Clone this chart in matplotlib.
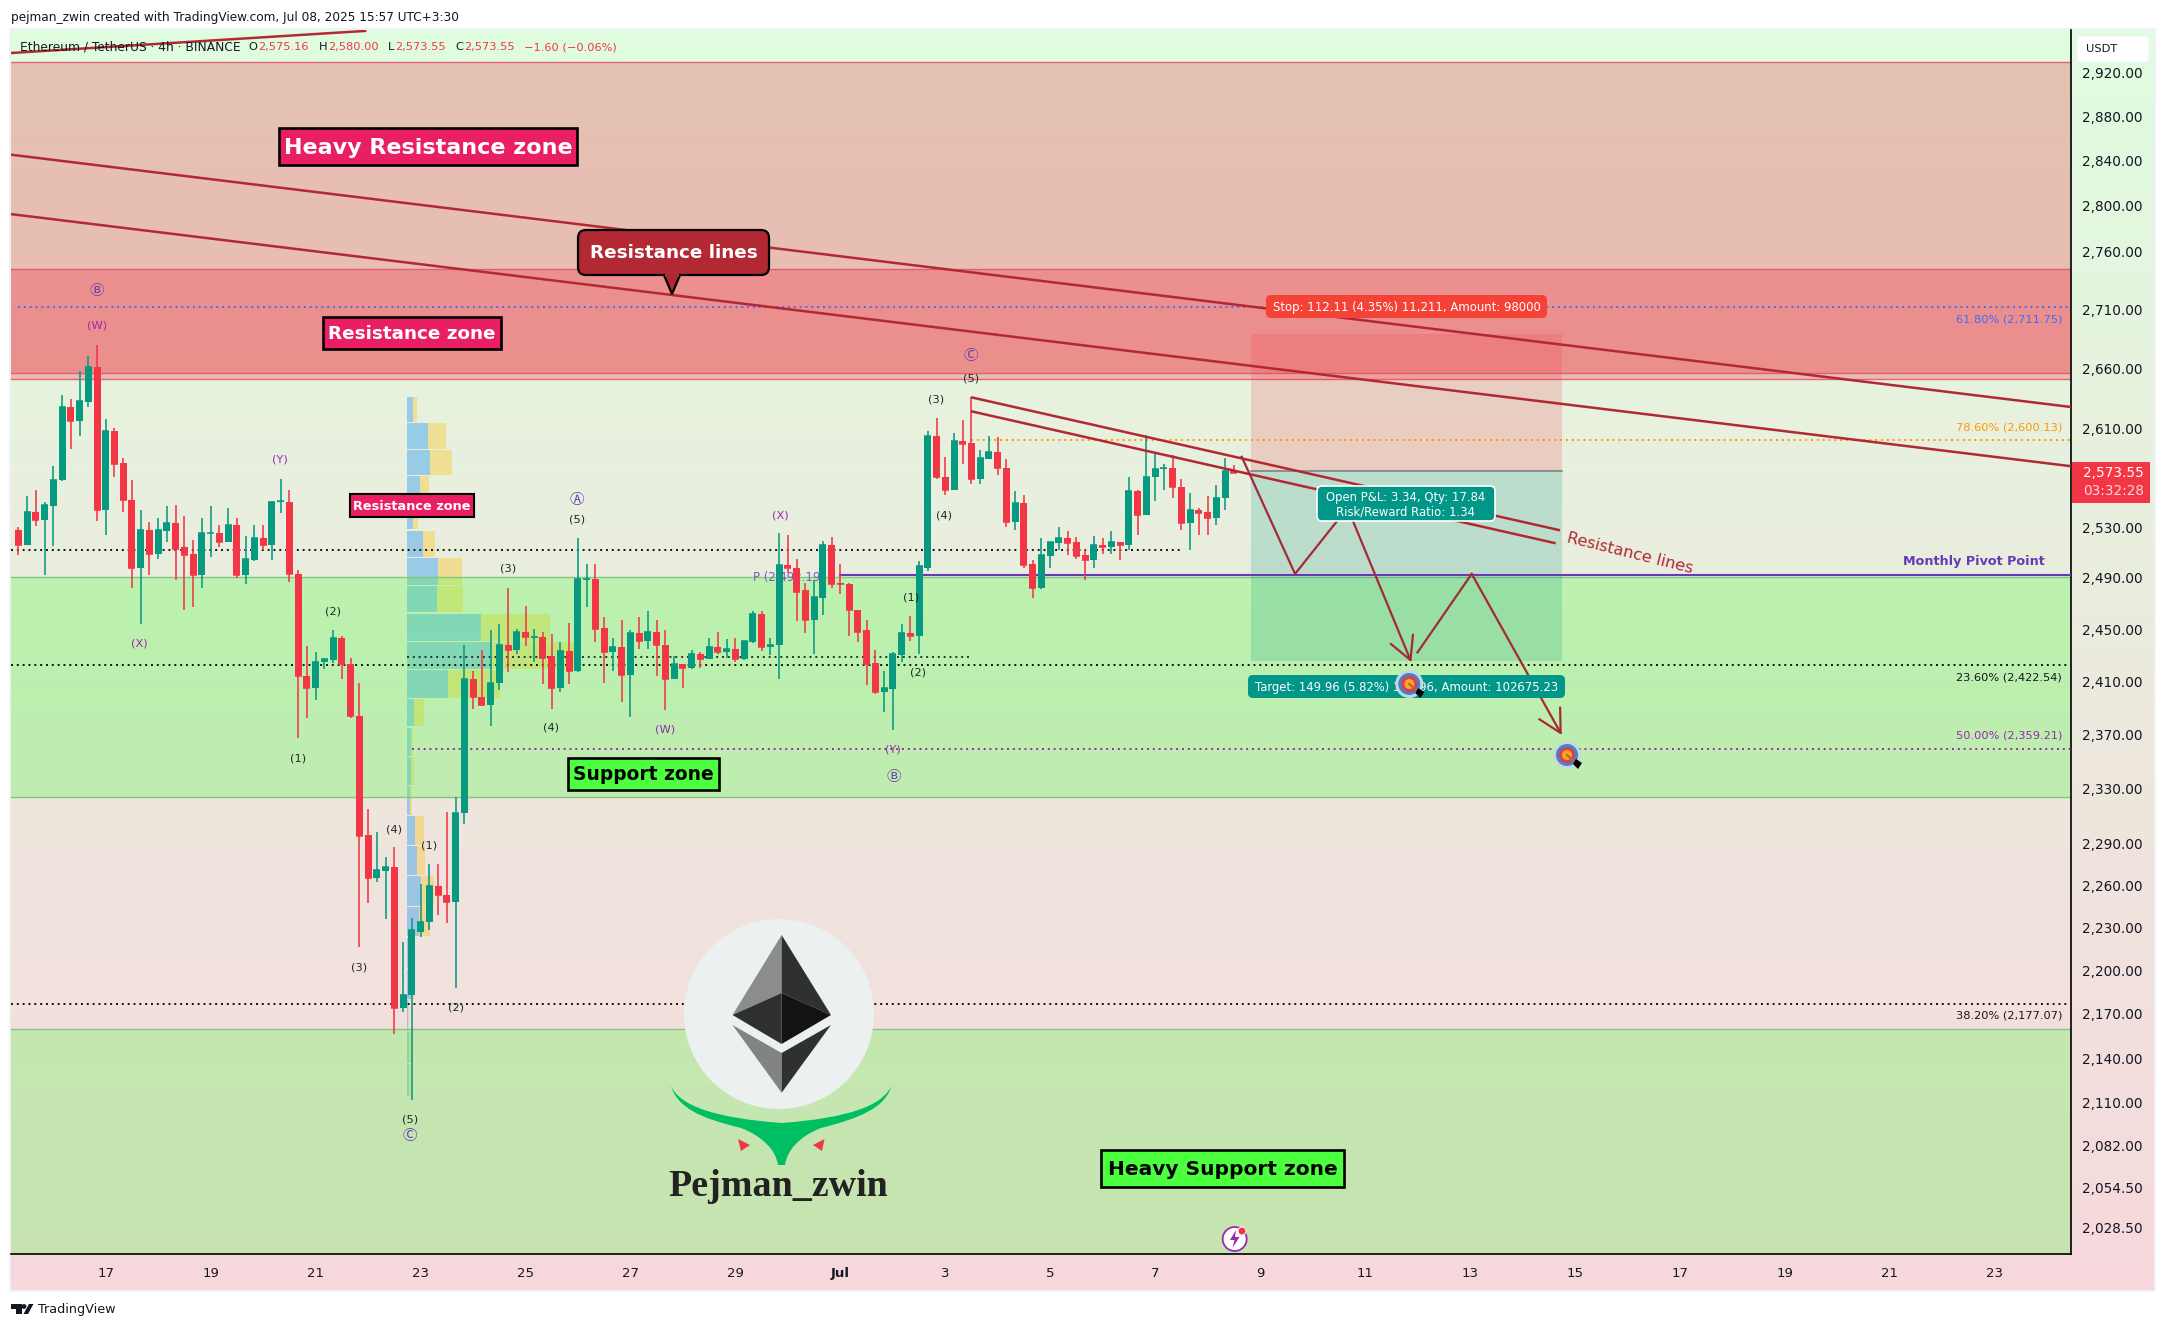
import numpy as np
import matplotlib
matplotlib.use("Agg")
import matplotlib.pyplot as plt
from matplotlib.patches import Rectangle, FancyBboxPatch, Circle, Ellipse, Polygon, PathPatch
from matplotlib.path import Path

plt.rcParams['font.family'] = ['DejaVu Sans']

# ---------- data ----------
opens = [2528,2516,2542,2536,2547,2568,2628,2616,2632,2661,
 2544,2608,2582,2552,2498,2528,2509,2527,2533,2514,
 2509,2492,2525,2525,2518,2532,2492,2504,2521,2516,
 2550,2550,2493,2414,2405,2425,2426,2443,2423,2384,
 2296,2265,2270,2273,2174,2183,2227,2234,2259,2253,
 2248,2312,2412,2398,2392,2409,2438,2434,2448,2443,
 2444,2429,2405,2433,2418,2488,2489,2451,2432,2436,
 2415,2447,2441,2448,2438,2412,2423,2420,2431,2427,
 2436,2432,2435,2427,2440,2462,2436,2438,2500,2498,
 2480,2457,2474,2516,2485.5,2485,2465,2449,2424,2402,
 2404,2430,2447,2445,2498,2604,2570,2560,2600,2598,
 2569,2585,2591,2578,2534,2549,2501,2482,2507,2517,
 2521,2518,2508,2504,2516,2514,2518,2516,2559,2540,
 2570,2577,2578,2562,2533,2544,2542,2537,2553,2575.16]
highs = [2530,2555,2560,2550,2579,2638,2634,2658,2670,2680,
 2618,2610,2586,2568,2544,2534,2537,2547,2548,2539,
 2520,2537,2547,2532,2545,2537,2523,2532,2532,2551,
 2569,2560,2496,2437,2432,2428,2449,2445,2428,2409,
 2315,2298,2280,2287,2220,2237,2261,2275,2275,2313,
 2324,2438,2418,2434,2449,2454,2482,2450,2468,2450,
 2448,2446,2440,2455,2521,2501,2501,2459,2443,2457,
 2449,2459,2464,2457,2449,2429,2423,2434,2432,2443,
 2448,2442,2443,2441,2464,2464,2443,2525,2524,2505,
 2486,2488,2519,2522,2501,2486,2465,2457,2434,2418,
 2432,2454,2460,2503,2608,2619,2587,2606,2617,2636,
 2592,2604,2603,2585,2559,2556,2504,2521,2518,2530,
 2527,2522,2513,2523,2521,2527,2518,2570,2560,2605,
 2590,2581,2588,2569,2557,2545,2555,2564,2586,2580]
lows = [2508,2516,2531,2492,2515,2567,2593,2604,2628,2535,
 2524,2570,2542,2482,2454,2492,2505,2518,2488,2465,
 2467,2482,2506,2514,2518,2490,2485,2503,2512,2504,
 2541,2487,2367,2382,2396,2419,2424,2412,2382,2216,
 2247,2262,2236,2156,2171,2112,2223,2228,2239,2233,
 2188,2304,2389,2391,2376,2403,2417,2431,2437,2425,
 2408,2389,2402,2408,2417,2467,2440,2409,2418,2394,
 2383,2435,2435,2414,2388,2412,2405,2419,2420,2427,
 2431,2428,2425,2426,2439,2433,2430,2412,2494,2456,
 2447,2431,2461,2482,2477,2445,2440,2407,2400,2387,
 2373,2425,2441,2431,2495,2569,2556,2560,2581,2565,
 2565,2585,2572,2530,2528,2498,2474,2481,2498,2512,
 2508,2505,2488,2498,2509,2509,2504,2512,2524,2540,
 2551,2560,2553,2528,2512,2524,2524,2532,2544,2573.55]
closes = [2516,2542,2536,2548,2568,2628,2616,2633,2661,2544,
 2608,2581,2552,2498,2528,2509,2528,2533,2513,2508,
 2492,2525,2525.5,2518,2532,2492,2505,2521,2516,2550,
 2551,2493,2414,2405,2425,2427,2443,2423,2384,2295,
 2265,2271,2273,2174,2183,2228,2234,2259,2253,2248,
 2312,2412,2398,2392,2409,2438,2434,2448,2444,2444,
 2428,2405,2433,2418,2489,2489,2450,2432,2436,2415,
 2447,2441,2448,2438,2412,2423,2420,2431,2427,2436,
 2432,2435,2427,2441,2462,2436,2438,2500,2498,2479,
 2457,2475,2516,2485,2485,2465,2448,2423,2402,2405,
 2431,2447,2445,2499,2604,2570,2560,2600,2597,2569,
 2586,2591,2578,2534,2549,2500,2482,2508,2518,2521,
 2517,2507,2504,2516,2514,2518,2516,2559,2540,2570,
 2577,2578,2562,2533,2544,2541,2537,2553,2575,2573.55]

price_ticks = [2920,2880,2840,2800,2760,2710,2660,2610,2530,2490,2450,2410,2370,
               2330,2290,2260,2230,2200,2170,2140,2110,2082,2054.5,2028.5]
date_ticks = [10,22,34,46,58,70,82,94,106,118,130,142,154,166,178,190,202,214,226]
date_labels = ['17','19','21','23','25','27','29','Jul','3','5','7','9','11','13','15','17','19','21','23']

profile_top = 2636.0
profile_bin = 21.75
profile_buy = [6,21,23,13,6,16,31,30,74,84,41,7,4,4,3,8,10,14,12,2,5,1,2,2]
profile_sell = [4,18,22,9,5,12,24,26,69,84,52,10,2,3,2,9,8,13,11,3,2,1,3,2]

heavy_res = (2651, 2929.4)
res_zone = (2656, 2744.4)
support_zone = (2323.4, 2490.6)
heavy_sup_top = 2159.5

fib_618 = 2711.75
fib_786 = 2600.13
fib_236 = 2422.54
fib_500 = 2359.21
fib_382 = 2177.07
pivot = 2492.19
dot_upper = 2512
dot_short = 2428.7

long_line1_x, long_line1_y = [-0.835, 234.73], [2845.3, 2627.7]
long_line2_x, long_line2_y = [-0.835, 234.73], [2792.5, 2579.1]
head_line_x, head_line_y = [-0.835, 39.8], [2938, 2958.6]
short_a_x, short_a_y = [108.94, 176.3], [2635.8, 2527.5]
short_b_x, short_b_y = [108.94, 175.8], [2624.2, 2517.2]

path1_x = [139.9, 146, 152, 159.3]
path1_y = [2586.8, 2493, 2545.4, 2424.5]
path2_x = [160, 166.2, 176.5]
path2_y = [2432, 2493, 2369.5]

pos_x = (141, 176.5)
pos_entry, pos_stop, pos_target = 2575.16, 2688.7, 2425.2

# ---------- figure ----------
W, H = 2165, 1329
fig = plt.figure(figsize=(W/100, H/100), dpi=100, facecolor='white')

bg = fig.add_axes([0, 0, 1, 1], zorder=0)
bg.set_xlim(0, W); bg.set_ylim(H, 0); bg.axis('off')
top = np.array([224, 253, 224]) / 255
bot = np.array([247, 216, 220]) / 255
grad = np.linspace(0, 1, 256)[:, None, None] * (bot - top) + top
bg.imshow(grad, extent=(11, 2154, 1290, 30), aspect='auto', zorder=0)
bg.set_xlim(0, W); bg.set_ylim(H, 0)
bg.add_patch(Rectangle((10, 29), 2145, 1262, fill=False, ec='#eef0f3', lw=1.2, zorder=1))

ax = fig.add_axes([11/W, 1-1254/H, (2071-11)/W, (1254-30)/H], zorder=1, facecolor='none')
ax.set_yscale('log')
ax.set_xlim(-0.835, 234.73)
ax.set_ylim(2011.8, 2959.4)
for s in ['top', 'left']:
    ax.spines[s].set_visible(False)
for s in ['right', 'bottom']:
    ax.spines[s].set_color('black'); ax.spines[s].set_linewidth(1.2)
ax.yaxis.tick_right()
ax.set_yticks(price_ticks)
ax.set_yticklabels([f'{v:,.2f}' for v in price_ticks], fontsize=9.8, color='#131722')
ax.minorticks_off()
ax.tick_params(axis='y', length=0, pad=7.8, which='both')
ax.set_xticks(date_ticks)
ax.set_xticklabels(date_labels, fontsize=9.5, color='#131722')
ax.tick_params(axis='x', length=0, pad=9.5)
for lab in ax.get_xticklabels():
    if lab.get_text() == 'Jul':
        lab.set_fontweight('bold')

# volume profile
pf_x0 = 44.45
sc = 1/8.745
for k, (b, s) in enumerate(zip(profile_buy, profile_sell)):
    hi = profile_top - k*profile_bin
    lo = hi - profile_bin + 0.9
    ax.add_patch(Rectangle((pf_x0, lo), b*sc, hi-lo, fc='#2196f3', alpha=.40, lw=0, zorder=1))
    ax.add_patch(Rectangle((pf_x0+b*sc, lo), s*sc, hi-lo, fc='#ffc107', alpha=.35, lw=0, zorder=1))

# zones
xl = ax.get_xlim()
def zone(lo, hi, col, a, ec):
    ax.add_patch(Rectangle((xl[0], lo), xl[1]-xl[0], hi-lo, fc=col, alpha=a, lw=0, zorder=2))
    ax.plot(xl, [hi, hi], color=ec, lw=1.0, zorder=2.1)
    ax.plot(xl, [lo, lo], color=ec, lw=1.0, zorder=2.1)
zone(heavy_res[0], heavy_res[1], '#f23645', .29, '#e8607a')
zone(res_zone[0], res_zone[1], '#f23645', .33, '#e06070')
zone(support_zone[0], support_zone[1], '#4cff3f', .29, '#86c486')
ax.add_patch(Rectangle((xl[0], 2011.8), xl[1]-xl[0], heavy_sup_top-2011.8, fc='#4cff3f', alpha=.275, lw=0, zorder=2))
ax.plot(xl, [heavy_sup_top]*2, color='#86c486', lw=1.0, zorder=2.1)

# position tool
ax.add_patch(Rectangle((pos_x[0], pos_entry), pos_x[1]-pos_x[0], pos_stop-pos_entry, fc='#f23645', alpha=.19, lw=0, zorder=2.5))
ax.add_patch(Rectangle((pos_x[0], pos_target), pos_x[1]-pos_x[0], pos_entry-pos_target, fc='#089981', alpha=.20, lw=0, zorder=2.5))
ax.plot(pos_x, [pos_entry]*2, color='#787b86', lw=1.1, zorder=2.6)

# horizontal levels
dots = (0, (1, 2))
def level(v, x0, x1, col, lw=1.4):
    ax.plot([x0, x1], [v, v], color=col, lw=lw, ls=dots, zorder=3, dash_capstyle='butt')
level(fib_618, 0.0, xl[1], '#3d6bff')
level(fib_786, 109, xl[1], '#ff9800')
level(fib_236, xl[0], xl[1], '#111111')
level(fib_500, 45, xl[1], '#9c27b0')
level(fib_382, xl[0], xl[1], '#111111')
level(dot_upper, xl[0], 133.2, '#111111')
level(dot_short, 44.5, 109, '#1f3a2a')
ax.plot([94, xl[1]], [pivot, pivot], color='#673ab7', lw=1.5, zorder=3)
ax.text(84, 2490, 'P (2,492.19)', color='#7e57c2', fontsize=8.4, va='center', ha='left', zorder=3)

# candles
GREEN, RED = '#089981', '#f23645'
idx = np.arange(len(opens))
cols = [GREEN if c >= o else RED for o, c in zip(opens, closes)]
ax.vlines(idx, lows, highs, colors=cols, lw=1.15, zorder=4)
bt = np.minimum(opens, closes); ht = np.abs(np.array(opens, float)-np.array(closes, float))
ax.bar(idx, ht, bottom=bt, width=0.8, color=cols, lw=0, zorder=4.1)
ax.hlines(closes, idx-0.4, idx+0.4, colors=cols, lw=1.1, zorder=4.1)

# trend lines
TR = '#b22833'
for xs, ys in [(long_line1_x, long_line1_y), (long_line2_x, long_line2_y), (head_line_x, head_line_y),
               (short_a_x, short_a_y), (short_b_x, short_b_y)]:
    ax.plot(xs, ys, color=TR, lw=1.8, zorder=5, solid_capstyle='butt', clip_on=True)

# projected path with open arrow heads
PC = '#a52a35'
ax.plot(path1_x[:-1], path1_y[:-1], color=PC, lw=1.6, zorder=5)
ax.plot(path2_x[:-1], path2_y[:-1], color=PC, lw=1.6, zorder=5)
for xs, ys in [(path1_x, path1_y), (path2_x, path2_y)]:
    ax.annotate('', xy=(xs[-1], ys[-1]), xytext=(xs[-2], ys[-2]),
                arrowprops=dict(arrowstyle='->,head_length=0.9,head_width=0.48', color=PC, lw=1.6,
                                shrinkA=0, shrinkB=0, mutation_scale=18), zorder=5)

# ---------- overlay drawn in picture pixels ----------
ov = fig.add_axes([0, 0, 1, 1], zorder=2, facecolor='none')
ov.set_xlim(0, W); ov.set_ylim(H, 0); ov.axis('off')
S = W / 1568

def box_label(x0, y0, x1, y1, txt, fc, tc, fs, ec='black', lw=1.9, weight='bold'):
    ov.add_patch(Rectangle((x0, y0), x1-x0, y1-y0, fc=fc, ec=ec, lw=lw, zorder=10))
    ov.text((x0+x1)/2, (y0+y1)/2-1, txt, color=tc, fontsize=fs, fontweight=weight, ha='center', va='center_baseline', zorder=11)

def round_label(x0, y0, x1, y1, lines, fc, fs, ec='none', lw=0, rad=5):
    ov.add_patch(FancyBboxPatch((x0+rad, y0+rad), x1-x0-2*rad, y1-y0-2*rad, boxstyle=f'round,pad={rad},rounding_size={rad}',
                                fc=fc, ec=ec, lw=lw, zorder=10))
    n = len(lines)
    for i, t in enumerate(lines):
        yy = (y0+y1)/2 + (i-(n-1)/2)*14.5
        ov.text((x0+x1)/2, yy, t, color='white', fontsize=fs, ha='center', va='center_baseline', zorder=11)

box_label(279, 128, 577, 165, 'Heavy Resistance zone', '#e91e63', 'white', 16.0)
box_label(323, 317, 501, 349, 'Resistance zone', '#e91e63', 'white', 13.2)
box_label(350, 494, 474, 517, 'Resistance zone', '#e91e63', 'white', 9.3, lw=1.5)
box_label(568, 758, 719, 790, 'Support zone', '#4cff3f', 'black', 13.4)
box_label(1101, 1150, 1344, 1187, 'Heavy Support zone', '#4cff3f', 'black', 14.5)

# resistance callout
ov.add_patch(Polygon([(664, 275), (680, 275), (672, 294)], fc=TR, ec='black', lw=1.6, zorder=10))
ov.add_patch(FancyBboxPatch((586, 238), 175, 29, boxstyle='round,pad=8,rounding_size=8', fc=TR, ec='black', lw=1.6, zorder=10))
ov.add_patch(Rectangle((665, 270), 14, 7, fc=TR, lw=0, zorder=10.5))
ov.text(674, 251, 'Resistance lines', color='white', fontsize=13.2, fontweight='bold', ha='center', va='center_baseline', zorder=11)

ov.text(1630, 553, 'Resistance lines', color=TR, fontsize=11.6, rotation=-14, ha='center', va='center', rotation_mode='anchor', zorder=6)

round_label(1266, 295, 1547, 318, ['Stop: 112.11 (4.35%) 11,211, Amount: 98000'], '#f44336', 8.4)
round_label(1248, 675, 1565, 698, ['Target: 149.96 (5.82%) 14,996, Amount: 102675.23'], '#009688', 8.4)
round_label(1317, 486, 1495, 521, ['Open P&L: 3.34, Qty: 17.84', 'Risk/Reward Ratio: 1.34'], '#009688', 8.4, ec='white', lw=1.2)

def target(cx, cy):
    for r, c in [(14, '#c9d6de'), (11, '#3f86c6'), (8, '#e53950'), (5, '#f9a825')]:
        ov.add_patch(Circle((cx, cy), r, fc=c, lw=0, zorder=12))
    ov.plot([cx, cx+8], [cy, cy+7], color='#b5672f', lw=1.6, zorder=13)
    ov.add_patch(Polygon([(cx+6, cy+9), (cx+9, cy+4), (cx+15, cy+8), (cx+11, cy+14)], fc='black', lw=0, zorder=13))
target(1409.3, 684)
target(1567, 755)

# wave labels
CIRCLED = ['Noto Sans CJK SC', 'DejaVu Sans']
def wave(x, y, t, c):
    if t in 'ⒶⒷⒸ':
        ov.text(x*S, y*S, t, color=c, fontsize=10.5, family=CIRCLED, ha='center', va='center', zorder=6)
    else:
        ov.text(x*S, y*S, t, color=c, fontsize=8.2, ha='center', va='center', zorder=6)
PUR, BLU, BLK = '#9c27b0', '#673ab7', '#1e2a26'
for x, y, t, c in [(70, 211, 'Ⓑ', BLU), (70, 236, '(W)', PUR), (203, 333, '(Y)', PUR), (101, 466, '(X)', PUR),
                   (216, 549, '(1)', BLK), (241, 443, '(2)', BLK), (260, 701, '(3)', BLK), (285, 601, '(4)', BLK),
                   (297, 811, '(5)', BLK), (297, 823, 'Ⓒ', BLU), (311, 612, '(1)', BLK), (330, 730, '(2)', BLK),
                   (368, 412, '(3)', BLK), (399, 527, '(4)', BLK), (418, 376, '(5)', BLK), (418, 362, 'Ⓐ', BLU),
                   (482, 528, '(W)', PUR), (565, 373, '(X)', PUR), (660, 433, '(1)', BLK), (665, 487, '(2)', BLK),
                   (678, 289, '(3)', BLK), (684, 373, '(4)', BLK), (703, 274, '(5)', BLK), (703, 258, 'Ⓒ', BLU),
                   (647, 543, '(Y)', PUR), (647, 563, 'Ⓑ', BLU)]:
    wave(x, y, t, c)

# fib texts
for y, t, c in [(319, '61.80% (2,711.75)', '#3d6bff'), (428, '78.60% (2,600.13)', '#ff9800'),
                (678, '23.60% (2,422.54)', '#131722'), (736, '50.00% (2,359.21)', '#9c27b0'),
                (1016, '38.20% (2,177.07)', '#131722')]:
    ov.text(2062, y, t, color=c, fontsize=8.2, ha='right', va='center', zorder=6)
ov.text(2045, 562, 'Monthly Pivot Point', color='#673ab7', fontsize=9.2, fontweight='bold', ha='right', va='center', zorder=6)

# price tag + currency box
ov.add_patch(Rectangle((2072, 462), 78, 41, fc=RED, lw=0, zorder=10))
ov.text(2083, 473, '2,573.55', color='white', fontsize=9.8, ha='left', va='center', zorder=11)
ov.text(2083, 491, '03:32:28', color='#fcd5da', fontsize=9.8, ha='left', va='center', zorder=11)
ov.add_patch(FancyBboxPatch((2080, 39), 66, 20, boxstyle='round,pad=3,rounding_size=3', fc='white', ec='#f0f3fa', lw=0.6, zorder=10))
ov.text(2086, 49, 'USDT', color='#131722', fontsize=8.2, ha='left', va='center', zorder=11)

# header and legend
ov.text(10.7, 17, 'pejman_zwin created with TradingView.com, Jul 08, 2025 15:57 UTC+3:30', color='#131722', fontsize=8.75, va='center', ha='left')
DK, RD = '#131722', '#f23645'
ov.text(20.5, 47, 'Ethereum / TetherUS · 4h · BINANCE', color=DK, fontsize=8.85, va='center', ha='left', zorder=4)
for x, t, c in [(248.7, 'O', DK), (258, '2,575.16', RD), (319, 'H', DK), (328, '2,580.00', RD),
                (388, 'L', DK), (395, '2,573.55', RD), (455, 'C', DK), (464, '2,573.55', RD), (524.5, '−1.60 (−0.06%)', RD)]:
    ov.text(x, 47, t, color=c, fontsize=8.2, va='center', ha='left', zorder=4)

# Ethereum logo
ov.add_patch(Ellipse((779, 1014), 190, 190, fc='#ecf0f1', lw=0, zorder=7))
for pts, c in [([(781.6, 935), (732.5, 1015), (781.6, 993)], '#8a8c8e'),
               ([(781.6, 935), (831, 1015), (781.6, 993)], '#2f3030'),
               ([(732.5, 1015), (781.6, 993), (781.6, 1044)], '#2f3030'),
               ([(831, 1015), (781.6, 993), (781.6, 1044)], '#131313'),
               ([(732.5, 1025), (781.6, 1053), (781.6, 1092.7)], '#828384'),
               ([(831, 1025), (781.6, 1053), (781.6, 1092.7)], '#2f3030')]:
    ov.add_patch(Polygon(pts, fc=c, lw=0, zorder=8))
verts = [(671, 1086), (680, 1106), (715, 1118), (781.6, 1123), (848, 1118), (882, 1106), (891.4, 1086),
         (885, 1108), (860, 1118), (821, 1128), (800, 1136), (787, 1150), (785, 1165), (778, 1165),
         (776, 1150), (762, 1136), (741, 1128), (700, 1118), (678, 1108), (671, 1086), (671, 1086)]
codes = [Path.MOVETO] + [Path.CURVE4]*12 + [Path.LINETO] + [Path.CURVE4]*6 + [Path.CLOSEPOLY]
ov.add_patch(PathPatch(Path(verts, codes), fc='#00bf63', lw=0, zorder=8))
ov.add_patch(Polygon([(738, 1139), (750, 1145), (741, 1151)], fc='#f23645', lw=0, zorder=8))
ov.add_patch(Polygon([(824.5, 1139), (813, 1145), (822, 1151)], fc='#f23645', lw=0, zorder=8))
ov.text(778, 1186, 'Pejman_zwin', family='Liberation Serif', fontweight='bold', fontsize=27.4, color='#222222', ha='center', va='center', zorder=8)

# lightning marker
ov.add_patch(Circle((1234.7, 1239), 12, fc='white', ec='#9c27b0', lw=1.3, zorder=8))
ov.add_patch(Polygon([(1236, 1230), (1230, 1240), (1234.5, 1240), (1232.5, 1248), (1239.5, 1237), (1235, 1237)], fc='#9c27b0', lw=0, zorder=9))
ov.add_patch(Circle((1242, 1231), 4, fc='#f23645', ec='white', lw=0.7, zorder=9))

# footer
ov.add_patch(Polygon([(11, 1304), (21.5, 1304), (21.5, 1314), (16, 1314), (16, 1309), (11, 1309)], fc='#131722', lw=0))
ov.add_patch(Circle((24, 1306.5), 2.4, fc='#131722', lw=0))
ov.add_patch(Polygon([(29, 1304), (33.5, 1304), (28, 1314), (23.5, 1314)], fc='#131722', lw=0))
ov.text(38, 1310, 'TradingView', color='#131722', fontsize=9.2, ha='left', va='center')

fig.savefig('out.png', dpi=100)
